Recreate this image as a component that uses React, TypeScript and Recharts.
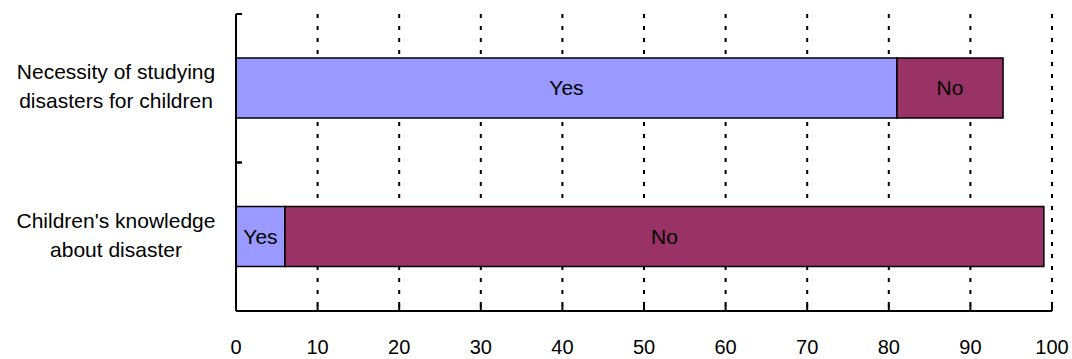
import React from 'react';
import { BarChart, Bar, XAxis, YAxis, CartesianGrid, LabelList } from 'recharts';

const categoryLines: string[][] = [
  ['Necessity of studying', 'disasters for children'],
  ["Children's knowledge", 'about disaster'],
];
const categories: string[] = categoryLines.map((l) => l.join(' '));
const yesValues: number[] = [81, 6];
const noValues: number[] = [13, 93];
const xTicks: number[] = [0, 10, 20, 30, 40, 50, 60, 70, 80, 90, 100];

const data = categories.map((c, i) => ({ category: c, yes: yesValues[i], no: noValues[i] }));

const W = 1072;
const H = 359;
const M_TOP = 14;
const M_RIGHT = 20;
const YAXIS_W = 236;
const XAXIS_H = 48;
const FONT = '"Liberation Sans", Arial, sans-serif';
const BAND = (H - M_TOP - XAXIS_H) / categories.length;

const XTick = (props: any) => {
  const { x, y, payload } = props;
  return (
    <g>
      <line x1={x} x2={x} y1={y} y2={y - 6} stroke="#000" strokeWidth={2} />
      <text x={x} y={y + 43} textAnchor="middle" fontSize={20} fontFamily={FONT} fill="#000">
        {payload.value}
      </text>
    </g>
  );
};

const YTick = (props: any) => {
  const { x, y, index } = props;
  const half = BAND / 2;
  const lines = categoryLines[index] || [];
  return (
    <g>
      <line x1={x} x2={x + 6} y1={y - half} y2={y - half} stroke="#000" strokeWidth={2} />
      <line x1={x} x2={x + 6} y1={y + half} y2={y + half} stroke="#000" strokeWidth={2} />
      <text x={116} y={y - 9} textAnchor="middle" fontSize={21} fontFamily={FONT} fill="#000">
        {lines[0]}
      </text>
      <text x={116} y={y + 20} textAnchor="middle" fontSize={21} fontFamily={FONT} fill="#000">
        {lines[1]}
      </text>
    </g>
  );
};

export default function App() {
  return (
    <div style={{ position: 'absolute', left: 0, top: 0, width: W, height: H, background: '#fff' }}>
      <BarChart
        width={W}
        height={H}
        data={data}
        layout="vertical"
        margin={{ top: M_TOP, right: M_RIGHT, bottom: 0, left: 0 }}
        barSize={60}
      >
        <CartesianGrid
          horizontal={false}
          vertical={true}
          stroke="#000"
          strokeWidth={2}
          strokeDasharray="4 8"
        />
        <XAxis
          type="number"
          domain={[0, 100]}
          ticks={xTicks}
          interval={0}
          height={XAXIS_H}
          tickSize={0}
          tickMargin={0}
          tickLine={false}
          axisLine={{ stroke: '#000', strokeWidth: 2 }}
          tick={<XTick />}
        />
        <YAxis
          type="category"
          dataKey="category"
          width={YAXIS_W}
          tickSize={0}
          tickMargin={0}
          tickLine={false}
          interval={0}
          axisLine={{ stroke: '#000', strokeWidth: 2 }}
          tick={<YTick />}
        />
        <Bar dataKey="yes" stackId="a" fill="#9999FF" stroke="#000" strokeWidth={1.5} isAnimationActive={false}>
          <LabelList
            dataKey="yes"
            position="center"
            formatter={() => 'Yes'}
            fill="#000"
            fontSize={21}
            fontFamily={FONT}
          />
        </Bar>
        <Bar dataKey="no" stackId="a" fill="#993366" stroke="#000" strokeWidth={1.5} isAnimationActive={false}>
          <LabelList
            dataKey="no"
            position="center"
            formatter={() => 'No'}
            fill="#000"
            fontSize={21}
            fontFamily={FONT}
          />
        </Bar>
      </BarChart>
    </div>
  );
}
